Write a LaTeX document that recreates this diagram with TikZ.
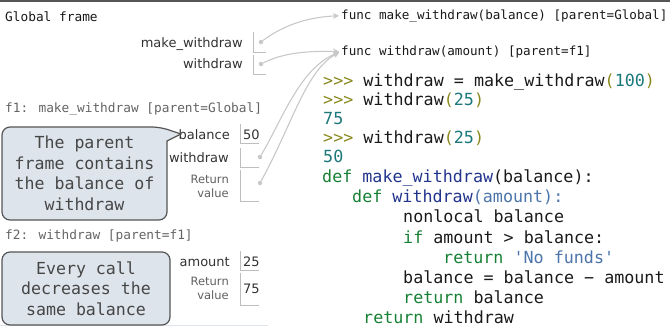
\documentclass[tikz,border=0pt]{standalone}
\usepackage{fontspec}
\usetikzlibrary{arrows.meta}
\newfontfamily\codefont[Ligatures=TeXOff]{DejaVu Sans Mono}
\newfontfamily\namefont{DejaVu Sans}
\definecolor{promptcol}{RGB}{136,136,28}
\definecolor{numcol}{RGB}{28,120,122}
\definecolor{kwcol}{RGB}{22,128,52}
\definecolor{fncol}{RGB}{32,52,140}
\definecolor{argcol}{RGB}{74,116,170}
\definecolor{plaincol}{RGB}{25,25,25}
\definecolor{titlegray}{RGB}{100,100,100}
\definecolor{labelgray}{RGB}{50,50,50}
\definecolor{retgray}{RGB}{95,95,95}
\definecolor{slotgray}{RGB}{190,190,190}
\definecolor{arrowgray}{RGB}{200,200,200}
\definecolor{notefill}{RGB}{221,228,235}
\definecolor{noteline}{RGB}{85,85,85}
\definecolor{notefg}{RGB}{70,70,70}
\begin{document}
\begin{tikzpicture}[x=1pt,y=-1pt,
  frametitle/.style={anchor=base west,inner sep=0pt,font=\codefont\fontsize{12.8}{15}\selectfont},
  functitle/.style={anchor=base west,inner sep=0pt,text=plaincol,font=\codefont\fontsize{12.6}{15}\selectfont},
  varname/.style={anchor=base east,inner sep=0pt,text=labelgray,font=\namefont\fontsize{13}{15}\selectfont},
  retname/.style={anchor=east,align=right,inner sep=0pt,text=retgray,font=\namefont\fontsize{11.5}{14}\selectfont},
  varval/.style={anchor=base west,inner sep=0pt,text=labelgray,font=\namefont\fontsize{13}{15}\selectfont},
  slot/.style={draw=slotgray,line width=0.8pt},
  ptr/.style={circle,fill=arrowgray,inner sep=0pt,minimum size=4.5pt},
  link/.style={draw=arrowgray,line width=1.1pt,shorten >=2pt,-{Stealth[length=6pt,width=6pt]}},
  codeline/.style={anchor=base west,inner sep=0pt,text=plaincol,font=\codefont\fontsize{16.7}{20}\selectfont},
  note/.style={draw=noteline,fill=notefill,line width=1.2pt,rounded corners=8pt},
  notetext/.style={align=center,inner sep=0pt,text=notefg,font=\codefont\fontsize{16.6}{20.5}\selectfont}
]
\useasboundingbox (0,0) rectangle (670,327);
\draw[draw=noteline,line width=1.5pt] (0,1) -- (670,1);
\draw[draw=notefill,line width=1.5pt] (0,325.5) -- (268,325.5);

% global frame
\node[frametitle,text=plaincol] (gtitle) at (5,21) {Global frame};
\node[varname] (gmw) at (243,47) {make\_withdraw};
\node[varname] (gw) at (243,68) {withdraw};
\draw[slot] (253,32) |- (266,52);
\draw[slot] (253,55) |- (266,74);
\node[ptr] (gmwdot) at (261,42) {};
\node[ptr] (gwdot) at (261,64) {};

% function objects
\node[functitle] (fmw) at (341,19) {func make\_withdraw(balance) [parent=Global]};
\node[functitle] (fw) at (341,55) {func withdraw(amount) [parent=f1]};

% f1
\node[frametitle,text=titlegray] (f1title) at (5,112) {f1: make\_withdraw [parent=Global]};
\node[varname] (f1bal) at (230,139) {balance};
\node[varname] (f1w) at (229,162) {withdraw};
\node[retname] (f1ret) at (229,186) {Return\\value};
\draw[slot] (240,124) |- (259,143);
\draw[slot] (240,148) |- (259,167);
\draw[slot] (240,170) |- (259,201);
\node[varval] (f1balv) at (243,139) {50};
\node[ptr] (f1wdot) at (260,157) {};
\node[ptr] (f1retdot) at (260,183) {};

% f2
\node[frametitle,text=titlegray] (f2title) at (5,239) {f2: withdraw [parent=f1]};
\node[varname] (f2amt) at (230,266) {amount};
\node[retname] (f2ret) at (229,288.5) {Return\\value};
\draw[slot] (240,251) |- (259,270);
\draw[slot] (240,273) |- (259,305);
\node[varval] (f2amtv) at (243,266) {25};
\node[varval] (f2retv) at (243,293) {75};

% pointers
\draw[link] (gmwdot) .. controls (285,24) and (310,17) .. (fmw.west);
\draw[link] (gwdot) .. controls (285,52) and (310,51) .. (fw.west);
\draw[link] (f1wdot) .. controls (282,120) and (300,68) .. (fw.west);
\draw[link] (f1retdot) .. controls (292,125) and (306,70) .. (fw.west);

% notes
\draw[note] (2,174) |- (160,127) [sharp corners] -- (181,134) -- (167,141) [rounded corners=8pt] |- (2,220) -- cycle;
\node[notetext] (note1) at (84.5,173.5) {The parent\\frame contains\\the balance of\\withdraw};
\draw[note] (2,252) rectangle (170,325);
\node[notetext] (note2) at (86,288.5) {Every call\\decreases the\\same balance};

% code
\node[codeline] (c1) at (323,86) {\textcolor{promptcol}{>>>} withdraw = make\_withdraw\textcolor{promptcol}{(}\textcolor{numcol}{100}\textcolor{promptcol}{)}};
\node[codeline] (c2) at (323,105) {\textcolor{promptcol}{>>>} withdraw\textcolor{promptcol}{(}\textcolor{numcol}{25}\textcolor{promptcol}{)}};
\node[codeline,text=numcol] (c3) at (323,124) {75};
\node[codeline] (c4) at (323,143) {\textcolor{promptcol}{>>>} withdraw\textcolor{promptcol}{(}\textcolor{numcol}{25}\textcolor{promptcol}{)}};
\node[codeline,text=numcol] (c5) at (323,162) {50};
\node[codeline] (c6) at (322,182) {\textcolor{kwcol}{def} \textcolor{fncol}{make\_withdraw}(balance):};
\node[codeline] (c7) at (352,202) {\textcolor{kwcol}{def} \textcolor{fncol}{withdraw}\textcolor{argcol}{(amount):}};
\node[codeline] (c8) at (403,222) {nonlocal balance};
\node[codeline] (c9) at (403,243) {\textcolor{kwcol}{if} amount > balance:};
\node[codeline] (c10) at (443,263) {\textcolor{kwcol}{return} \textcolor{argcol}{'No funds'}};
\node[codeline] (c11) at (403,283) {balance = balance − amount};
\node[codeline] (c12) at (403,303) {\textcolor{kwcol}{return} balance};
\node[codeline] (c13) at (363,323) {\textcolor{kwcol}{return} withdraw};
\end{tikzpicture}
\end{document}
